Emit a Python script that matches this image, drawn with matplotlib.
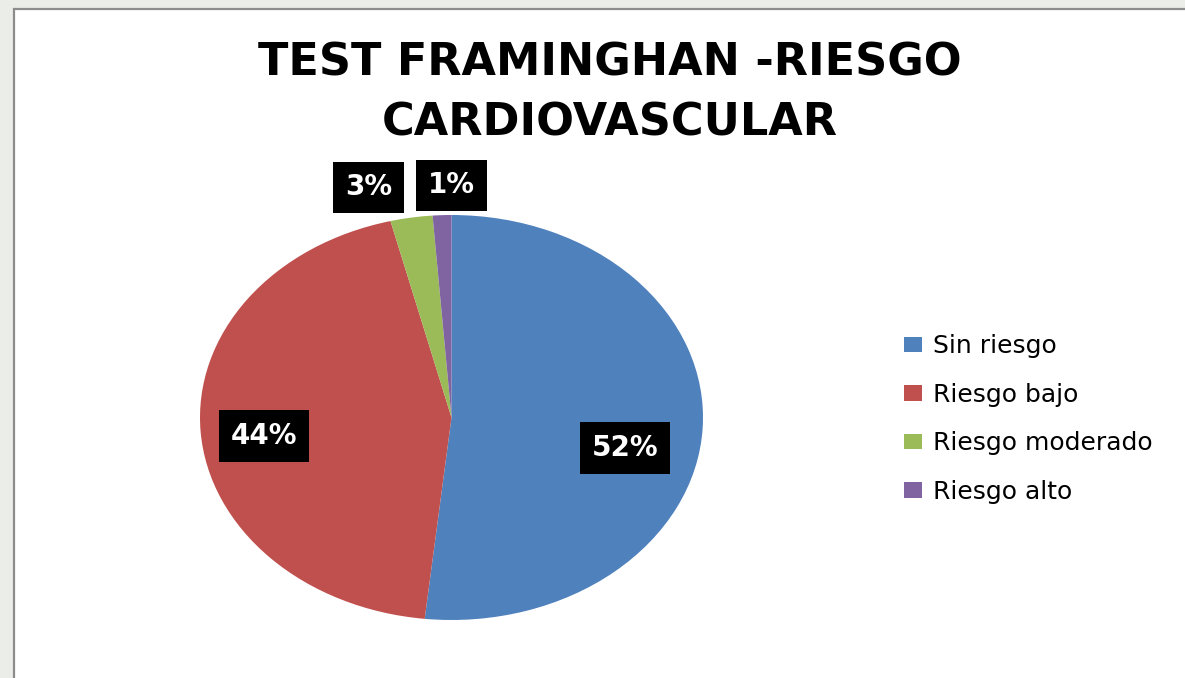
import matplotlib
matplotlib.use("Agg")
import matplotlib.pyplot as plt
from matplotlib.patches import Rectangle, Patch

categories = ["Sin riesgo", "Riesgo bajo", "Riesgo moderado", "Riesgo alto"]
values = [51.7, 44.4, 2.7, 1.2]          # shares (%)
colors = ["#4F81BD", "#C0504D", "#9BBB59", "#8064A2"]
title_lines = ["TEST FRAMINGHAN -RIESGO", "CARDIOVASCULAR"]
# label anchor positions (axes data units, pie radius = 1)
label_pos = [(0.69, -0.151), (-0.744, -0.091), (-0.33, 1.136), (0.0, 1.146)]

W, H = 1185, 678
fig = plt.figure(figsize=(W / 100, H / 100), dpi=100, facecolor="#EBEEE8")

# white chart area with grey border
fig.patches.append(Rectangle((14 / W, -0.05), 1.2, (H - 9) / H + 0.05,
                             transform=fig.transFigure, facecolor="white",
                             edgecolor="#8C8C8C", linewidth=1.6, zorder=-10))

ax = fig.add_axes([200 / W, 58 / H, 503 / W, 405 / H])
ax.set_zorder(5)
wedges, _ = ax.pie(values, colors=colors, startangle=90, counterclock=False,
                   radius=1.0)
ax.set_aspect("auto")
ax.set_xlim(-1, 1)
ax.set_ylim(-1, 1)
ax.axis("off")

for v, (x, y) in zip(values, label_pos):
    ax.text(x, y, f"{round(v)}%", ha="center", va="center", color="white",
            fontsize=20, fontweight="bold", family="DejaVu Sans",
            bbox=dict(boxstyle="square,pad=0.42", facecolor="black",
                      edgecolor="none"), clip_on=False)

fig.text(610 / W, 1 - 76 / H, title_lines[0], ha="center", va="baseline",
         fontsize=32, fontweight="bold", family="DejaVu Sans")
fig.text(610 / W, 1 - 135 / H, title_lines[1], ha="center", va="baseline",
         fontsize=32, fontweight="bold", family="DejaVu Sans")

handles = [Patch(facecolor=c, edgecolor="none") for c in colors]
fig.legend(handles, categories, loc="center left",
           bbox_to_anchor=(904 / W, 1 - 419 / H), frameon=False,
           prop=dict(family="DejaVu Sans", size=18),
           handlelength=0.72, handleheight=0.6, handletextpad=0.44,
           labelspacing=0.98, borderaxespad=0, borderpad=0)

fig.savefig("out.png", dpi=100, facecolor=fig.get_facecolor())
